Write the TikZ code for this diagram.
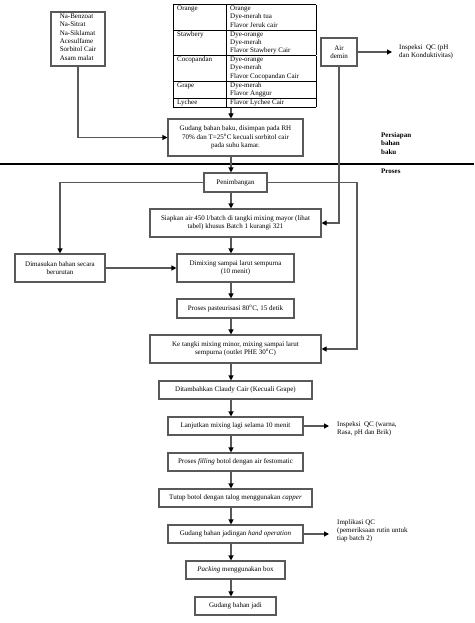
\documentclass[tikz,border=0pt]{standalone}
\usepackage{fontspec}
\setmainfont{Liberation Serif}
\usetikzlibrary{arrows.meta}
\setlength\arrayrulewidth{0.6pt}
\setlength\tabcolsep{4pt}

\begin{document}
\begin{tikzpicture}[x=1pt,y=-1pt,
  every node/.style={font=\fontsize{7}{8.3}\selectfont},
  box/.style={draw=black!65, line width=1.1pt, align=center, inner sep=1pt},
  flow/.style={draw=black!65, line width=1.1pt, -{Triangle[length=5pt,width=5pt,color=black]}},
  note/.style={align=left, anchor=west, inner sep=0pt}]

\useasboundingbox (0,0) rectangle (474,623);

\coordinate (spine) at (231,0);
\coordinate (railx) at (357,0);

\node[box, align=left, minimum width=54pt, minimum height=54pt, text depth=4pt] (bahan) at (78,39)
  {Na-Benzoat\\Na-Sitrat\\Na-Siklamat\\Acesulfame\\Sorbitol Cair\\Asam malat};

\node[anchor=north west, inner sep=0pt] (tabel) at (173,4) {%
\begin{tabular}{|p{45pt}|p{82pt}|}
\hline
Orange & Orange\\
 & Dye-merah tua\\
 & Flavor Jeruk cair\\ \hline
Stawbery & Dye-orange\\
 & Dye-merah\\
 & Flavor Stawbery Cair\\ \hline
Cocopandan & Dye-orange\\
 & Dye-merah\\
 & Flavor Cocopandan Cair\\ \hline
Grape & Dye-merah\\
 & Flavor Anggur\\ \hline
Lychee & Flavor Lychee Cair\\ \hline
\end{tabular}};

\node[box, minimum width=36pt, minimum height=28pt] (air) at (339,52) {Air\\demin};
\node[note] (qcair) at (399,52) {Inspeksi\ \ QC (pH\\dan Konduktivitas)};

\node[box, minimum width=135pt, minimum height=37pt] (gudang) at (235.5,137.5)
  {Gudang bahan baku, disimpan pada RH\\70\% dan T=25\textsuperscript{o}C kecuali sorbitol cair\\pada suhu kamar.};

\node[note, anchor=north west, font=\fontsize{7}{8.5}\selectfont\bfseries] (persiapan) at (381,132) {Persiapan\\bahan\\baku};
\node[note, anchor=north west, font=\fontsize{7}{8.5}\selectfont\bfseries] (proses) at (381,169) {Proses};
\draw[line width=2.5pt] (0,164) -- (474,164);

\node[box, minimum width=63pt, minimum height=19pt] (penim) at (235.5,182.5) {Penimbangan};
\node[box, minimum width=171pt, minimum height=28pt] (siapkan) at (235.5,223)
  {Siapkan air 450 l/batch di tangki mixing mayor (lihat\\tabel) khusus Batch 1 kurangi 321};
\node[box, minimum width=90pt, minimum height=28pt] (dimasukan) at (60,268) {Dimasukan bahan secara\\berurutan};
\node[box, minimum width=117pt, minimum height=28pt] (dimixing) at (235.5,268) {Dimixing sampai larut sempurna\\(10 menit)};
\node[box, minimum width=117pt, minimum height=19pt] (pasteur) at (235.5,308.5) {Proses pasteurisasi 80\textsuperscript{o}C, 15 detik};
\node[box, minimum width=171pt, minimum height=28pt] (tangki) at (235.5,349)
  {Ke tangki mixing minor, mixing sampai larut\\sempurna (outlet PHE 30\textsuperscript{o}C)};
\node[box, minimum width=153pt, minimum height=18pt] (claudy) at (235.5,390) {Ditambahkan Claudy Cair (Kecuali Grape)};
\node[box, minimum width=135pt, minimum height=18pt] (lanjut) at (235.5,426) {Lanjutkan mixing lagi selama 10 menit};
\node[note] (qcrasa) at (337,429) {Inspeksi\ \ QC (warna,\\Rasa, pH dan Brik)};
\node[box, minimum width=135pt, minimum height=18pt] (filling) at (235.5,462) {Proses \textit{filling} botol dengan air festomatic};
\node[box, minimum width=153pt, minimum height=18pt] (tutup) at (235.5,498) {Tutup botol dengan talog menggunakan \textit{capper}};
\node[box, minimum width=135pt, minimum height=18pt] (jadingan) at (235.5,534) {Gudang bahan jadingan \textit{hand operation}};
\node[note] (implikasi) at (337,531) {Implikasi QC\\(pemeriksaan rutin untuk\\tiap batch 2)};
\node[box, minimum width=99pt, minimum height=18pt] (packing) at (235.5,570) {\textit{Packing} menggunakan box};
\node[box, minimum width=81pt, minimum height=18pt] (jadi) at (235.5,606) {Gudang bahan jadi};

\draw[flow] (tabel.south -| spine) -- (gudang.north -| spine);
\draw[flow] (bahan.south) |- (gudang.west);
\draw[flow] (air.east) -- ([xshift=-7pt]qcair.west);
\draw[flow] (air.south) |- (siapkan.east);
\draw[flow] (gudang.south -| spine) -- (penim.north -| spine);
\draw[flow] (penim.west) -| (dimasukan.north);
\draw[flow] (penim.east) -- (penim.east -| railx) |- (tangki.east);
\draw[flow] (penim.south -| spine) -- (siapkan.north -| spine);
\draw[flow] (siapkan.south -| spine) -- (dimixing.north -| spine);
\draw[flow] (dimasukan.east) -- (dimixing.west);
\draw[flow] (dimixing.south -| spine) -- (pasteur.north -| spine);
\draw[flow] (pasteur.south -| spine) -- (tangki.north -| spine);
\draw[flow] (tangki.south -| spine) -- (claudy.north -| spine);
\draw[flow] (claudy.south -| spine) -- (lanjut.north -| spine);
\draw[flow] (lanjut.east) -- ([xshift=-8pt]lanjut.east -| qcrasa.west);
\draw[flow] (lanjut.south -| spine) -- (filling.north -| spine);
\draw[flow] (filling.south -| spine) -- (tutup.north -| spine);
\draw[flow] (tutup.south -| spine) -- (jadingan.north -| spine);
\draw[flow] (jadingan.east) -- ([xshift=-8pt]jadingan.east -| implikasi.west);
\draw[flow] (jadingan.south -| spine) -- (packing.north -| spine);
\draw[flow] (packing.south -| spine) -- (jadi.north -| spine);

\end{tikzpicture}
\end{document}
